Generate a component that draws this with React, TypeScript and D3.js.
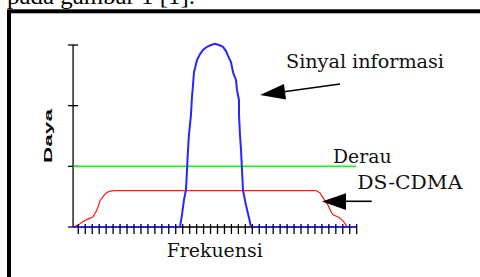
import { line, range, scaleLinear } from 'd3';

// frequency units: one unit per tick on the x axis; power units: one per y tick
const freqTicks = range(0, 41);
const powerTicks = [0, 1, 2, 3];

const signalX = [-0.75, 14.61, 14.9, 15.19, 15.47, 15.62, 15.76, 15.9, 16.19, 16.33, 16.48, 16.62, 17.05, 17.49, 17.92, 18.49, 19.07, 19.64, 20.22, 20.79, 21.22, 21.51, 21.94, 22.23, 22.66, 22.8, 23.09, 23.09, 23.23, 23.38, 23.52, 23.66, 24.09, 24.53, 24.81, 40];
const signalY = [0, 0, 0.2, 0.45, 0.61, 0.94, 1.27, 1.52, 1.85, 2.14, 2.34, 2.55, 2.75, 2.85, 2.92, 2.97, 3.0, 3.02, 3.0, 2.97, 2.9, 2.82, 2.72, 2.55, 2.42, 2.26, 2.09, 1.85, 1.52, 1.27, 0.94, 0.61, 0.36, 0.15, 0, 0];

const cdmaX = [-0.76, -0.04, 0.68, 1.39, 2.11, 2.54, 2.83, 3.12, 3.55, 3.98, 4.55, 5.27, 34.15, 34.73, 35.01, 35.45, 35.88, 36.31, 36.6, 37.6, 38.18, 38.61];
const cdmaY = [0, 0.03, 0.09, 0.13, 0.17, 0.25, 0.33, 0.43, 0.5, 0.56, 0.59, 0.6, 0.6, 0.56, 0.51, 0.43, 0.36, 0.25, 0.2, 0.15, 0.08, 0.005];

const noiseX = [-0.75, 39.9];
const noiseY = [1, 1];

const xScale = scaleLinear().domain([0, 40]).range([78.3, 356.7]);
const yScale = scaleLinear().domain([0, 3]).range([227, 45]);

const toPts = (xs: number[], ys: number[]) => xs.map((x, i) => [x, ys[i]] as [number, number]);
const path = line<[number, number]>()
  .x((d) => xScale(d[0]))
  .y((d) => yScale(d[1]));

const serif = '"DejaVu Serif", serif';

export default function App() {
  const x0 = xScale(-0.75);
  const y0 = yScale(0);
  return (
    <div style={{ position: 'fixed', left: 0, top: 0, background: '#fff' }}>
      <svg width={480} height={277} style={{ display: 'block' }}>
        <rect width={480} height={277} fill="#fff" />
        <text x={7} y={4} fontFamily='"Liberation Serif", serif' fontSize={24} fill="#000" textLength={188} lengthAdjust="spacingAndGlyphs">
          pada gambar 1 [1].
        </text>
        <rect x={9} y={11.3} width={520} height={320} fill="none" stroke="#000" strokeWidth={4} />

        {/* axes */}
        <line x1={x0} x2={x0} y1={yScale(3)} y2={y0} stroke="#000" strokeWidth={1.3} />
        {powerTicks.map((t) => (
          <line key={t} x1={x0 - 5} x2={x0 + 5} y1={yScale(t)} y2={yScale(t)} stroke="#000" strokeWidth={1.3} />
        ))}
        <line x1={x0} x2={xScale(40)} y1={y0} y2={y0} stroke="#000" strokeWidth={1.3} />

        <path d={path(toPts(noiseX, noiseY)) ?? ''} fill="none" stroke="#2ee62e" strokeWidth={1.6} />
        <path d={path(toPts(cdmaX, cdmaY)) ?? ''} fill="none" stroke="#ff1a1a" strokeWidth={1.2} />
        <path d={path(toPts(signalX, signalY)) ?? ''} fill="none" stroke="#2626ff" strokeWidth={2} />

        {freqTicks.map((t) => (
          <line key={t} x1={xScale(t)} x2={xScale(t)} y1={y0 - 3} y2={y0 + 7} stroke="#000" strokeWidth={1.3} />
        ))}

        <text transform="translate(52,163) rotate(-90)" fontFamily='"Liberation Sans", Arial, sans-serif' fontWeight="bold" fontSize={11.5} textLength={54} lengthAdjust="spacingAndGlyphs" fill="#000">
          Daya
        </text>
        <text x={166.7} y={256.7} fontFamily={serif} fontSize={19} textLength={96} lengthAdjust="spacingAndGlyphs" fill="#111">
          Frekuensi
        </text>
        <text x={286} y={68.3} fontFamily={serif} fontSize={19} textLength={158} lengthAdjust="spacingAndGlyphs" fill="#111">
          Sinyal informasi
        </text>
        <text x={333} y={162.7} fontFamily={serif} fontSize={19} textLength={58.5} lengthAdjust="spacingAndGlyphs" fill="#111">
          Derau
        </text>
        <text x={357.3} y={189.3} fontFamily={serif} fontSize={19} textLength={105} lengthAdjust="spacingAndGlyphs" fill="#111">
          DS-CDMA
        </text>

        {/* arrows */}
        <line x1={340} y1={84} x2={282} y2={92} stroke="#000" strokeWidth={1.6} />
        <polygon points="260,95 284,84 286,99.5" fill="#000" />
        <line x1={371.7} y1={201.3} x2={342} y2={201.3} stroke="#000" strokeWidth={1.6} />
        <polygon points="322,201.5 346,193.3 346,210" fill="#000" />
      </svg>
    </div>
  );
}
